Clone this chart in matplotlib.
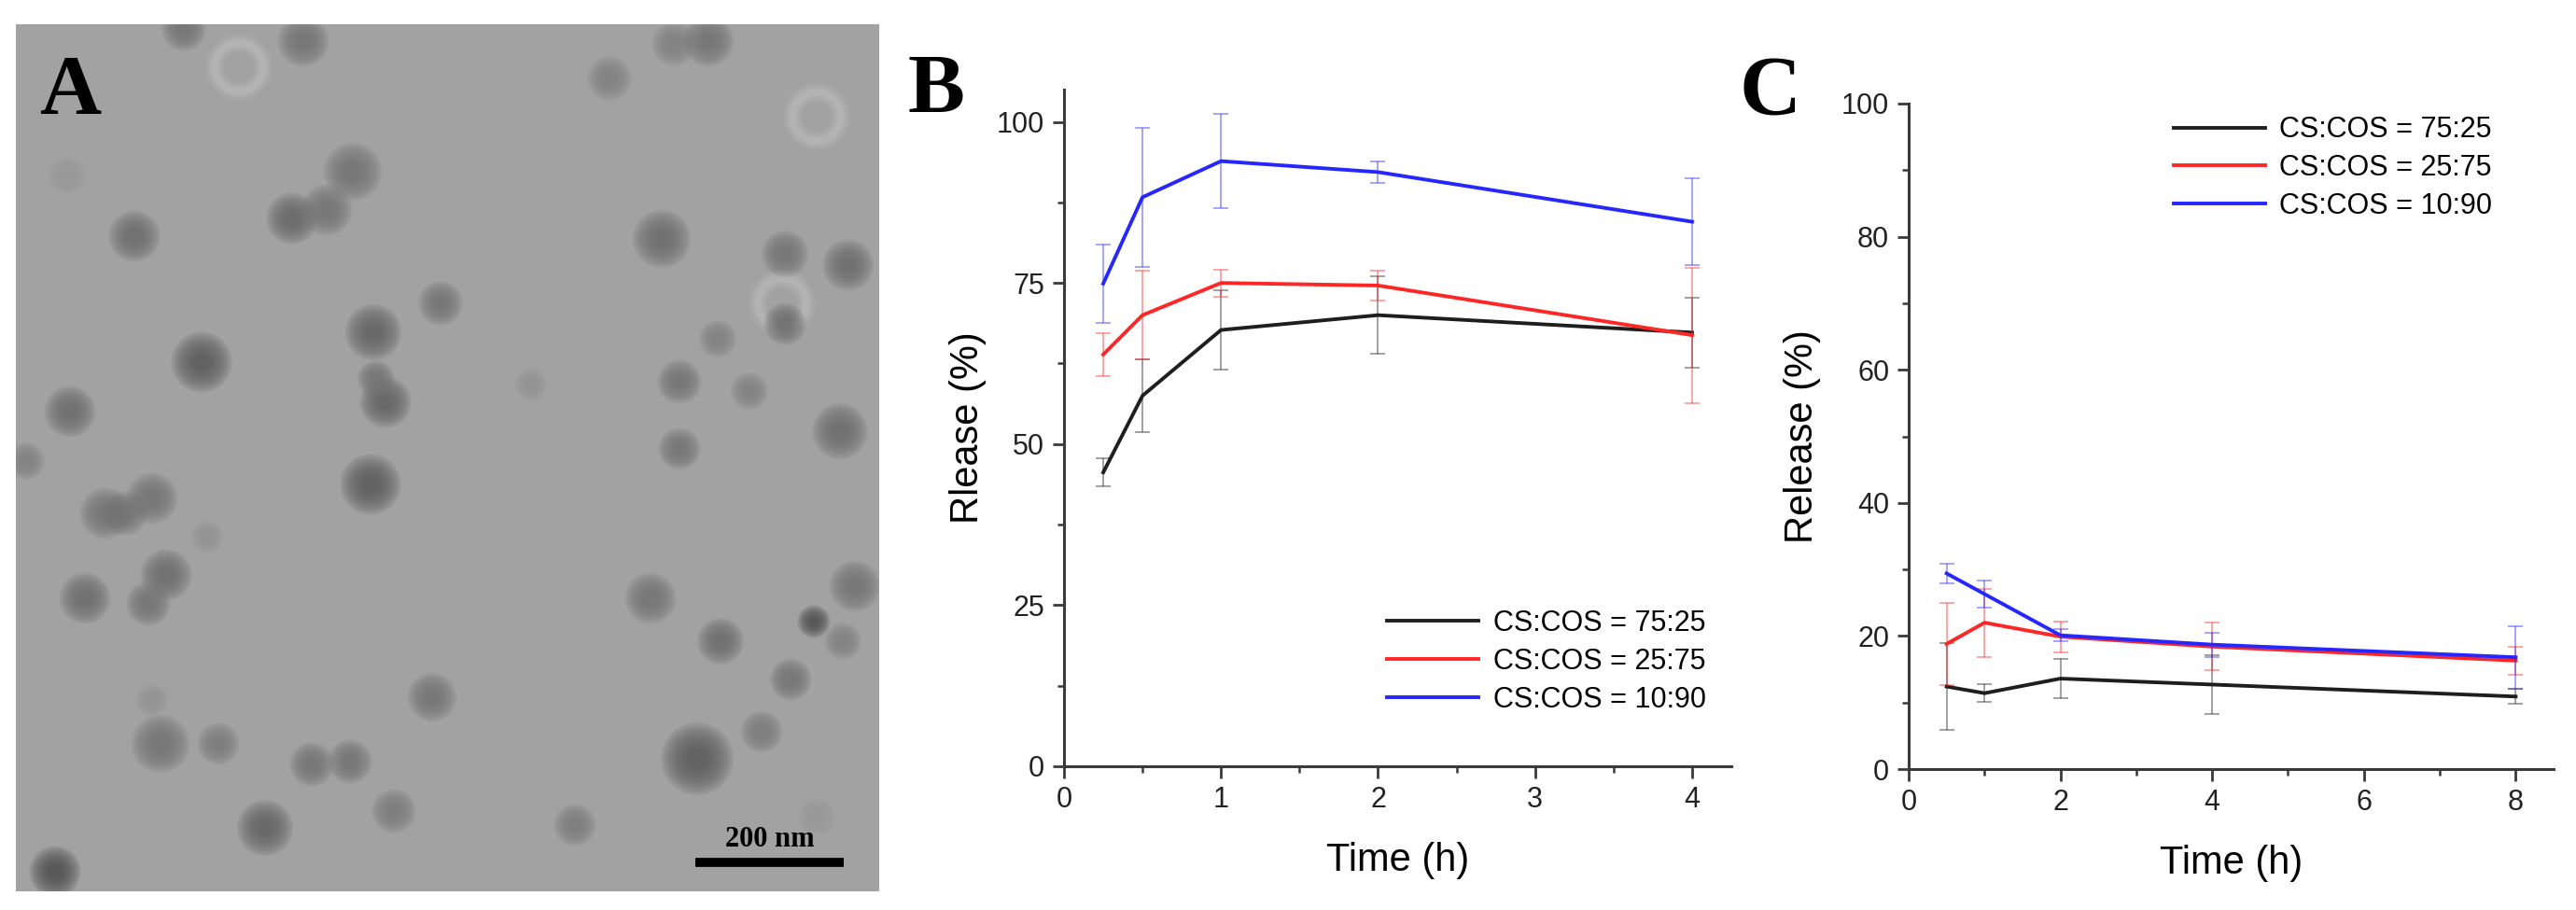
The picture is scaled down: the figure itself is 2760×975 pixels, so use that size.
import numpy as np
import matplotlib
matplotlib.use('Agg')
import matplotlib.pyplot as plt
from matplotlib.patches import Circle
from matplotlib.ticker import MultipleLocator

plt.rcParams['font.family'] = ['Liberation Sans', 'DejaVu Sans']

# ---- data: panel B (release, short run) ----
time_b = [0.25, 0.5, 1, 2, 4]
rel_b_7525 = [45.6, 57.5, 67.7, 70.0, 67.3]
err_b_7525 = [2.2, 5.7, 6.2, 6.0, 5.4]
rel_b_2575 = [63.9, 70.0, 75.0, 74.6, 66.9]
err_b_2575 = [3.3, 6.9, 2.1, 2.3, 10.5]
rel_b_1090 = [74.9, 88.3, 93.9, 92.2, 84.5]
err_b_1090 = [6.1, 10.8, 7.3, 1.7, 6.7]

# ---- data: panel C (release, long run) ----
time_c = [0.5, 1, 2, 4, 8]
rel_c_7525 = [12.4, 11.4, 13.6, 12.7, 10.9]
err_c_7525 = [6.5, 1.3, 2.9, 4.4, 1.1]
rel_c_2575 = [18.8, 22.0, 19.9, 18.4, 16.3]
err_c_2575 = [6.2, 5.1, 2.3, 3.6, 2.1]
rel_c_1090 = [29.4, 26.3, 20.1, 18.7, 16.8]
err_c_1090 = [1.5, 2.0, 0.9, 1.8, 4.7]

labels = ['CS:COS = 75:25', 'CS:COS = 25:75', 'CS:COS = 10:90']
colors = ['#1e1e1e', '#ff2626', '#2626ff']

# ---- data: panel A (TEM micrograph, particles in image pixels) ----
img_w, img_h = 925, 929
particle_x = [180, 308, 705, 742, 636, 55, 361, 296, 333, 127, 692, 824, 892, 455,
              383, 824, 199, 752, 396, 386, 58, 711, 786, 552, 883, 711, 11, 380,
              96, 146, 117, 205, 161, 74, 142, 680, 899, 855, 755, 886, 830, 446,
              155, 217, 146, 317, 358, 730, 799, 405, 267, 599, 42, 858]
particle_y = [5, 18, 21, 18, 58, 162, 158, 208, 199, 227, 230, 246, 258, 299,
              330, 321, 362, 337, 405, 380, 415, 383, 393, 386, 436, 455, 468, 493,
              524, 508, 524, 549, 590, 615, 621, 615, 602, 640, 661, 661, 702, 721,
              771, 771, 724, 793, 790, 787, 758, 843, 861, 858, 908, 849]
particle_r = [19, 22, 19, 22, 19, 16, 25, 22, 22, 22, 25, 20, 22, 19,
              24, 18, 26, 16, 22, 16, 22, 19, 16, 14, 24, 18, 16, 26,
              22, 22, 19, 14, 22, 22, 19, 22, 22, 14, 20, 16, 18, 21,
              25, 18, 14, 19, 19, 31, 18, 19, 24, 18, 22, 16]
particle_tone = [0.45, 0.45, 0.5, 0.45, 0.5, 0.6, 0.45, 0.4, 0.45, 0.42, 0.42, 0.45, 0.42, 0.45,
                 0.38, 0.42, 0.35, 0.5, 0.38, 0.45, 0.42, 0.45, 0.5, 0.58, 0.42, 0.45, 0.5, 0.35,
                 0.45, 0.45, 0.45, 0.58, 0.42, 0.42, 0.45, 0.45, 0.45, 0.3, 0.42, 0.5, 0.45, 0.45,
                 0.45, 0.48, 0.58, 0.45, 0.45, 0.35, 0.48, 0.48, 0.38, 0.48, 0.3, 0.6]
ring_x = [239, 858, 821]
ring_y = [46, 99, 299]
ring_r = [26, 26, 26]
scale_nm = 200
scale_px = 159

fig = plt.figure(figsize=(27.6, 9.75), dpi=100)

# ---- panel A ----
axA = fig.add_axes([17 / 2760, 1 - 955 / 975, 925 / 2760, 929 / 975])
axA.set_xlim(0, img_w)
axA.set_ylim(img_h, 0)
axA.set_facecolor('#a2a2a2')
axA.set_xticks([])
axA.set_yticks([])
for s in axA.spines.values():
    s.set_visible(False)
for x, y, r in zip(ring_x, ring_y, ring_r):
    for w, a in [(14, 0.15), (9, 0.2), (5, 0.25)]:
        axA.add_patch(Circle((x, y), r, facecolor='none', edgecolor='#c8c8c8', lw=w, alpha=a))
# soft-edged particles: stack of translucent discs
for x, y, r, t in zip(particle_x, particle_y, particle_r, particle_tone):
    for k in np.linspace(1.25, 0.35, 10):
        axA.add_patch(Circle((x, y), r * k, facecolor=str(t), edgecolor='none', alpha=0.16))
bx0 = 728
axA.plot([bx0, bx0 + scale_px], [898, 898], color='black', lw=7, solid_capstyle='butt')
axA.text(bx0 + scale_px / 2, 888, f'{scale_nm} nm', ha='center', va='bottom',
         family='Liberation Serif', weight='bold', fontsize=22)
fig.text(42 / 2760, 1 - 122 / 975, 'A', family='Liberation Serif', weight='bold',
         fontsize=66, va='baseline')
fig.text(972 / 2760, 1 - 121 / 975, 'B', family='Liberation Serif', weight='bold',
         fontsize=66, va='baseline')
fig.text(1863 / 2760, 1 - 123 / 975, 'C', family='Liberation Serif', weight='bold',
         fontsize=66, va='baseline')


def style_axes(ax):
    for side in ['top', 'right']:
        ax.spines[side].set_visible(False)
    for side in ['left', 'bottom']:
        ax.spines[side].set_color('#3a3a3a')
        ax.spines[side].set_linewidth(2.2)
    ax.tick_params(which='major', direction='out', length=9, width=2, color='#3a3a3a',
                   labelsize=22, pad=6, labelcolor='#222222')
    ax.tick_params(which='minor', direction='out', length=5, width=1.8, color='#3a3a3a')


def draw_series(ax, t, series):
    handles = []
    for (y, e), c, lab in zip(series, colors, labels):
        ax.errorbar(t, y, yerr=e, fmt='none', ecolor=c, elinewidth=1.3, capsize=6,
                    capthick=1.3, alpha=0.45)
        h, = ax.plot(t, y, color=c, lw=2.8, label=lab)
        handles.append(h)
    return handles


# ---- panel B ----
axB = fig.add_axes([1140 / 2760, 1 - 821 / 975, 715 / 2760, 725 / 975])
hB = draw_series(axB, time_b, [(rel_b_7525, err_b_7525), (rel_b_2575, err_b_2575),
                               (rel_b_1090, err_b_1090)])
axB.set_xlim(0, 4.25)
axB.set_ylim(0, 105)
axB.xaxis.set_major_locator(MultipleLocator(1))
axB.xaxis.set_minor_locator(MultipleLocator(0.5))
axB.yaxis.set_major_locator(MultipleLocator(25))
axB.yaxis.set_minor_locator(MultipleLocator(12.5))
style_axes(axB)
axB.set_xlabel('Time (h)', fontsize=30, labelpad=22)
axB.set_ylabel('Rlease (%)', fontsize=30, labelpad=8)
axB.legend(handles=hB, loc='lower right', bbox_to_anchor=(1.0, 0.04), frameon=False,
           fontsize=22, handlelength=3.2, handletextpad=0.5, labelspacing=0.35)

# ---- panel C ----
axC = fig.add_axes([2045 / 2760, 1 - 824 / 975, 691 / 2760, 713 / 975])
hC = draw_series(axC, time_c, [(rel_c_7525, err_c_7525), (rel_c_2575, err_c_2575),
                               (rel_c_1090, err_c_1090)])
axC.set_xlim(0, 8.5)
axC.set_ylim(0, 100)
axC.xaxis.set_major_locator(MultipleLocator(2))
axC.xaxis.set_minor_locator(MultipleLocator(1))
axC.yaxis.set_major_locator(MultipleLocator(20))
axC.yaxis.set_minor_locator(MultipleLocator(10))
style_axes(axC)
axC.set_xlabel('Time (h)', fontsize=30, labelpad=22)
axC.set_ylabel('Release (%)', fontsize=30, labelpad=16)
axC.legend(handles=hC, loc='upper right', bbox_to_anchor=(0.945, 1.02), frameon=False,
           fontsize=22, handlelength=3.2, handletextpad=0.5, labelspacing=0.35)

fig.savefig('out.png', dpi=100, facecolor='white')
